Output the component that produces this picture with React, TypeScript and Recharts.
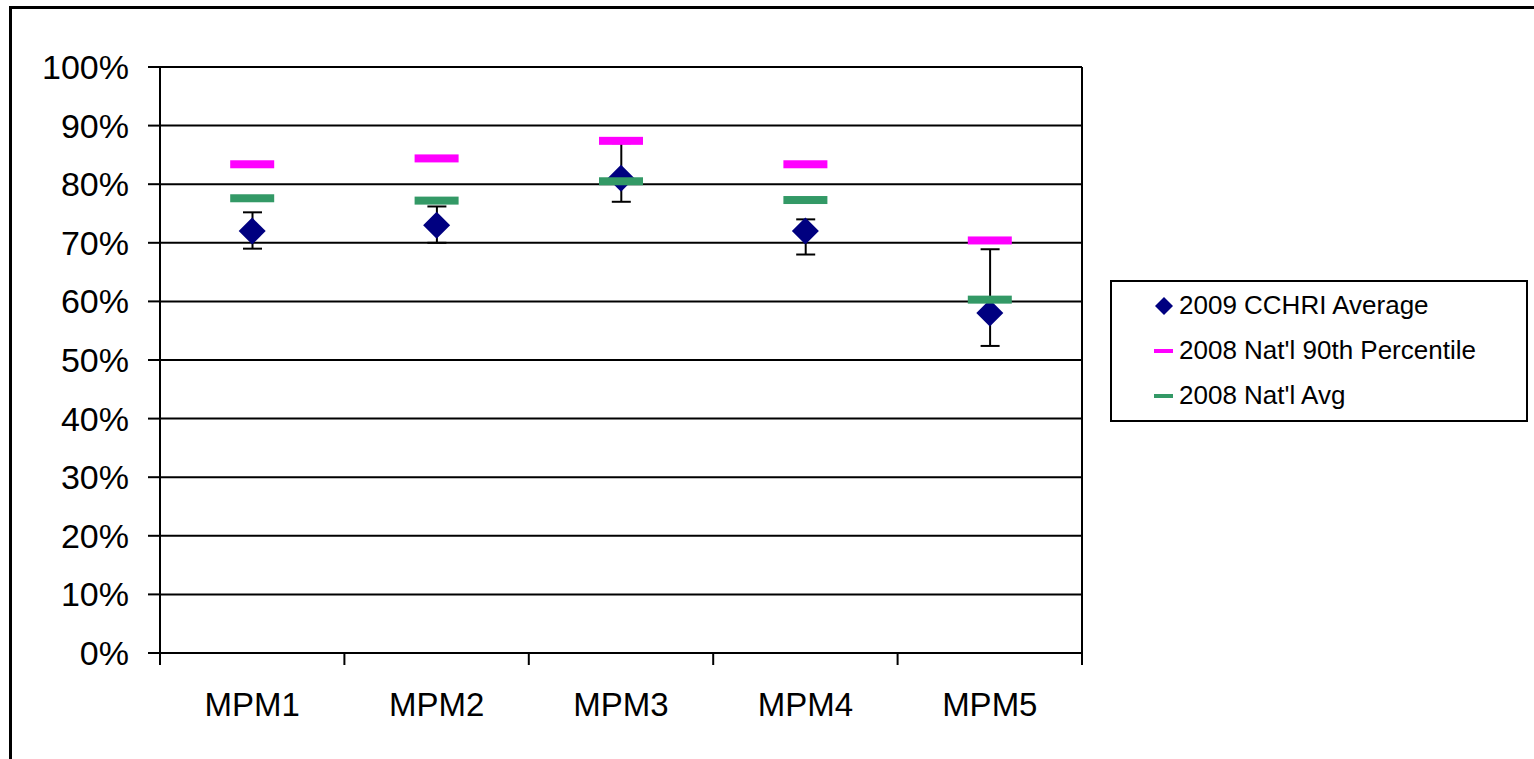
import React from 'react';
import {
  ComposedChart,
  Bar,
  Line,
  XAxis,
  YAxis,
  CartesianGrid,
} from 'recharts';

const categories = ['MPM1', 'MPM2', 'MPM3', 'MPM4', 'MPM5'];
const cchriAvg = [72, 73, 81, 72, 58];
const natl90th = [83.4, 84.4, 87.4, 83.4, 70.4];
const natlAvg = [77.6, 77.2, 80.5, 77.3, 60.3];
const errLow = [69, 70, 77, 68, 52.4];
const errHigh = [75.2, 76.2, 87, 74, 68.9];
const yTicks = [0, 10, 20, 30, 40, 50, 60, 70, 80, 90, 100];
const edgeTicks = [0, 1, 2, 3, 4, 5];

const seriesNames = ['2009 CCHRI Average', "2008 Nat'l 90th Percentile", "2008 Nat'l Avg"];
const NAVY = '#000080';
const MAGENTA = '#FF00FF';
const GREEN = '#339966';
const FONT = '"Liberation Sans", Arial, sans-serif';

const data = categories.map((cat, i) => ({
  cat,
  pos: i + 0.5,
  cchri: cchriAvg[i],
  p90: natl90th[i],
  avg: natlAvg[i],
  err: [errLow[i], errHigh[i]],
}));

const ErrorShape = (props: any) => {
  const { x, y, width, height } = props;
  if (x == null || y == null) return <g />;
  const cx = x + width / 2;
  return (
    <g>
      <line x1={cx} y1={y} x2={cx} y2={y + height} stroke="#000" strokeWidth={2} />
      <line x1={x} y1={y} x2={x + width} y2={y} stroke="#000" strokeWidth={2} />
      <line x1={x} y1={y + height} x2={x + width} y2={y + height} stroke="#000" strokeWidth={2} />
    </g>
  );
};

const DiamondDot = (props: any) => {
  const { cx, cy, index } = props;
  const r = 13.5;
  return (
    <polygon
      key={`dia-${index}`}
      points={`${cx},${cy - r} ${cx + r},${cy} ${cx},${cy + r} ${cx - r},${cy}`}
      fill={NAVY}
    />
  );
};

const makeDash = (color: string, prefix: string) => (props: any) => {
  const { cx, cy, index } = props;
  const w = 44;
  const h = 8;
  return (
    <rect key={`${prefix}-${index}`} x={cx - w / 2} y={cy - h / 2} width={w} height={h} fill={color} />
  );
};

const MagentaDot = makeDash(MAGENTA, 'p90');
const GreenDot = makeDash(GREEN, 'avg');

const EmptyTick = () => <g />;

const LegendBox = () => {
  const markers = [
    <svg width={20} height={20} key="m0">
      <polygon points="10,1 19,10 10,19 1,10" fill={NAVY} />
    </svg>,
    <svg width={20} height={20} key="m1">
      <rect x={0} y={8} width={19} height={4} fill={MAGENTA} />
    </svg>,
    <svg width={20} height={20} key="m2">
      <rect x={0} y={8} width={19} height={4} fill={GREEN} />
    </svg>,
  ];
  return (
    <div
      style={{
        position: 'absolute',
        left: 1110,
        top: 280,
        boxSizing: 'border-box',
        width: 418,
        height: 142,
        border: '2px solid #000',
        paddingTop: 1,
        paddingLeft: 42,
        background: '#fff',
        fontFamily: FONT,
        fontSize: 26,
        color: '#000',
      }}
    >
      {seriesNames.map((name, i) => (
        <div key={name} style={{ height: 45, display: 'flex', alignItems: 'center', whiteSpace: 'nowrap' }}>
          {markers[i]}
          <span style={{ marginLeft: 5 }}>{name}</span>
        </div>
      ))}
    </div>
  );
};

export default function App() {
  return (
    <div style={{ position: 'absolute', left: 0, top: 0, width: 1534, height: 759, overflow: 'hidden', background: '#fff' }}>
      <div
        style={{
          position: 'absolute',
          left: 9,
          top: 6,
          width: 1525,
          height: 753,
          boxSizing: 'border-box',
          borderTop: '3px solid #000',
          borderLeft: '3px solid #000',
        }}
      />
      <div style={{ position: 'absolute', left: 0, top: 0 }}>
        <ComposedChart
          width={1534}
          height={759}
          data={data}
          margin={{ top: 67, right: 451, bottom: 0, left: 0 }}
          style={{ fontFamily: FONT }}
        >
          <CartesianGrid vertical={false} stroke="#000" strokeWidth={2} strokeOpacity={1} />
          <XAxis
            xAxisId={0}
            type="number"
            dataKey="pos"
            domain={[0, 5]}
            ticks={edgeTicks}
            interval={0}
            allowDataOverflow
            tick={EmptyTick}
            tickSize={12}
            tickLine={{ stroke: '#000', strokeWidth: 2 }}
            axisLine={{ stroke: '#000', strokeWidth: 2 }}
            height={1}
          />
          <XAxis
            xAxisId={1}
            dataKey="cat"
            type="category"
            height={105}
            axisLine={false}
            tickLine={false}
            tickSize={0}
            tickMargin={39}
            interval={0}
            tick={{ fill: '#000', fontSize: 33, fontFamily: FONT }}
          />
          <YAxis
            width={160}
            domain={[0, 100]}
            ticks={yTicks}
            interval={0}
            tickFormatter={(v: number) => `${v}%`}
            tickSize={12}
            tickMargin={19}
            tickLine={{ stroke: '#000', strokeWidth: 2 }}
            axisLine={{ stroke: '#000', strokeWidth: 2 }}
            tick={{ fill: '#000', fontSize: 34, fontFamily: FONT }}
          />
          <YAxis
            yAxisId="right"
            orientation="right"
            width={1}
            domain={[0, 100]}
            tick={false}
            tickLine={false}
            axisLine={{ stroke: '#000', strokeWidth: 2 }}
          />
          <Bar xAxisId={1} dataKey="err" barSize={19} shape={<ErrorShape />} isAnimationActive={false} />
          <Line xAxisId={1} dataKey="cchri" stroke="none" dot={DiamondDot} activeDot={false} isAnimationActive={false} />
          <Line xAxisId={1} dataKey="p90" stroke="none" dot={MagentaDot} activeDot={false} isAnimationActive={false} />
          <Line xAxisId={1} dataKey="avg" stroke="none" dot={GreenDot} activeDot={false} isAnimationActive={false} />
        </ComposedChart>
      </div>
      <LegendBox />
    </div>
  );
}
